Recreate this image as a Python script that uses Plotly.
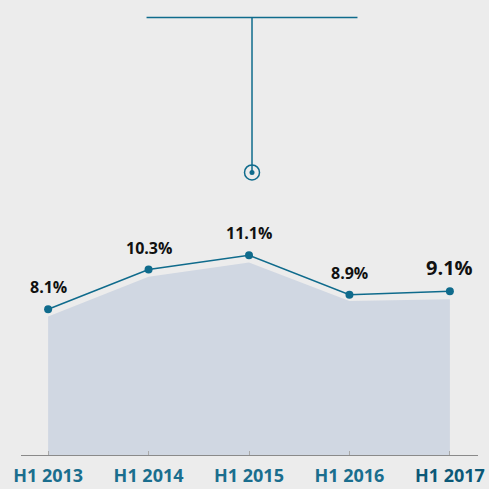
import plotly.graph_objects as go

categories = ["H1 2013", "H1 2014", "H1 2015", "H1 2016", "H1 2017"]
values = [8.1, 10.3, 11.1, 8.9, 9.1]
area_values = [7.7, 9.9, 10.7, 8.55, 8.65]
labels = ["8.1%", "10.3%", "11.1%", "8.9%", "9.1%"]

# marker / tooltip guide (data coords)
guide_x = 2.03
guide_top = 24.3
guide_point = 15.7
guide_left = 0.98
guide_right = 3.08

TEAL = "#0f6b8c"
BG = "#ececec"
AREA = "#d0d7e2"

xs = list(range(len(categories)))
tick_labels = [f"<b>{c}</b>" if i < len(categories) - 1
               else f"<b><span style='color:#0b5877'>{c}</span></b>"
               for i, c in enumerate(categories)]

fig = go.Figure()
fig.add_trace(go.Scatter(
    x=xs, y=area_values, mode="lines", line=dict(width=0, color=AREA),
    fill="tozeroy", fillcolor=AREA, hoverinfo="skip", showlegend=False))
fig.add_trace(go.Scatter(
    x=xs, y=values, mode="lines+markers",
    line=dict(color=TEAL, width=1.5),
    marker=dict(color=TEAL, size=8), showlegend=False))

for i, (x, v, t) in enumerate(zip(xs, values, labels)):
    last = i == len(xs) - 1
    fig.add_annotation(
        x=x, y=v, text=f"<b>{t}</b>", showarrow=False,
        yshift=22 if not last else 24, xshift=0,
        font=dict(family="Open Sans", size=20 if last else 16, color="#111111"))

# guide lines
fig.add_shape(type="line", x0=guide_left, x1=guide_right, y0=guide_top, y1=guide_top,
              line=dict(color=TEAL, width=1.5))
fig.add_shape(type="line", x0=guide_x, x1=guide_x, y0=guide_top, y1=guide_point,
              line=dict(color=TEAL, width=1.5))
fig.add_trace(go.Scatter(
    x=[guide_x], y=[guide_point], mode="markers",
    marker=dict(size=15, color="rgba(0,0,0,0)", line=dict(color=TEAL, width=1.5)),
    hoverinfo="skip", showlegend=False))
fig.add_trace(go.Scatter(
    x=[guide_x], y=[guide_point], mode="markers",
    marker=dict(size=5, color=TEAL), hoverinfo="skip", showlegend=False))

fig.update_layout(
    width=489, height=489,
    paper_bgcolor=BG, plot_bgcolor=BG,
    margin=dict(l=21, r=11, t=5, b=34),
    xaxis=dict(
        range=[-0.27, 4.28], tickvals=xs, ticktext=tick_labels, automargin=False,
        showgrid=False, zeroline=False, showline=True, linecolor="#8a8a8a", linewidth=1,
        ticks="inside", ticklen=4, tickcolor="#aaaaaa", ticklabelstandoff=4,
        tickfont=dict(family="Open Sans", size=18, color="#1a6e8e")),
    yaxis=dict(range=[0, 25], visible=False, fixedrange=True),
)

fig.write_html("out.html", config={"displayModeBar": False},
               post_script="document.body.style.margin='0';document.body.style.overflow='hidden';")
